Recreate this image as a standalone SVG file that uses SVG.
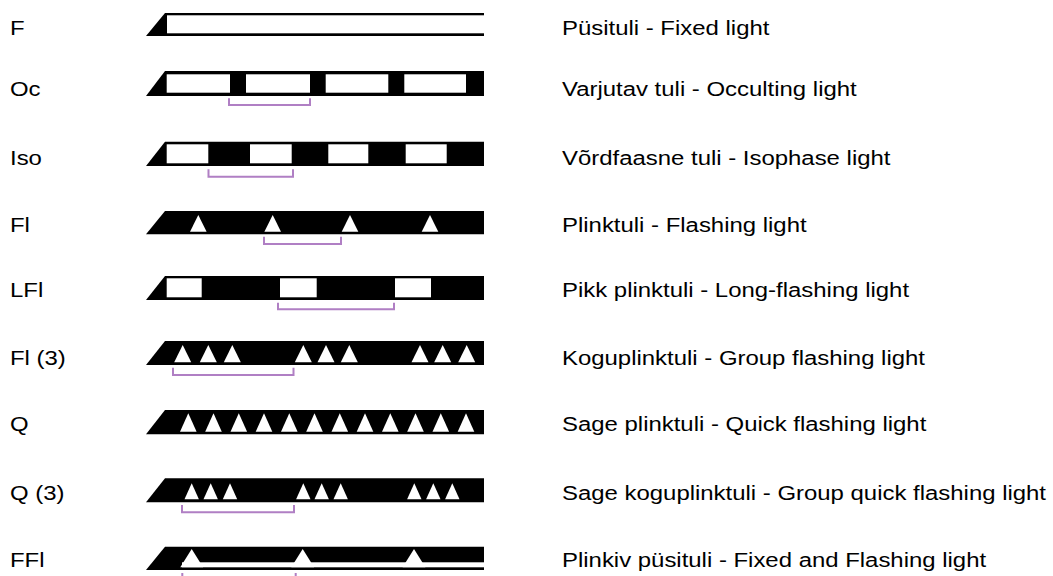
<svg xmlns="http://www.w3.org/2000/svg" width="1053" height="576" viewBox="0 0 1053 576">
<style>
.lbl{font-family:"Liberation Sans",Arial,sans-serif;font-size:21px;fill:#000}
.bar{fill:#000}
.win{fill:#fff}
.per{fill:none;stroke:#b07fc4;stroke-width:2}
</style>
<rect width="1053" height="576" fill="#fff"/>
<g id="row-F">
<text class="lbl" transform="translate(10,35) scale(1.14,1)">F</text>
<polygon class="bar" points="146,36 165,13 484,13 484,36"/>
<rect class="win" x="167" y="15.3" width="318" height="18"/>
<text class="lbl" transform="translate(562,35) scale(1.14,1)">Püsituli - Fixed light</text>
</g>
<g id="row-Oc">
<text class="lbl" transform="translate(10,96) scale(1.14,1)">Oc</text>
<polygon class="bar" points="146,96 165,71 484,71 484,96"/>
<rect class="win" x="166.7" y="74.3" width="63.3" height="18.4"/>
<rect class="win" x="246" y="74.3" width="64" height="18.4"/>
<rect class="win" x="325.7" y="74.3" width="62.6" height="18.4"/>
<rect class="win" x="404.3" y="74.3" width="61.7" height="18.4"/>
<text class="lbl" transform="translate(562,96) scale(1.14,1)">Varjutav tuli - Occulting light</text>
</g>
<g id="row-Iso">
<text class="lbl" transform="translate(10,165) scale(1.14,1)">Iso</text>
<polygon class="bar" points="146,166 165,141.7 484,141.7 484,166"/>
<rect class="win" x="166.7" y="144.3" width="41.6" height="19"/>
<rect class="win" x="250" y="144.3" width="41.7" height="19"/>
<rect class="win" x="328.3" y="144.3" width="40" height="19"/>
<rect class="win" x="405.7" y="144.3" width="41" height="19"/>
<text class="lbl" transform="translate(562,165) scale(1.14,1)">Võrdfaasne tuli - Isophase light</text>
</g>
<g id="row-Fl">
<text class="lbl" transform="translate(10,232) scale(1.14,1)">Fl</text>
<polygon class="bar" points="146,234.3 165,211 484,211 484,234.3"/>
<polygon class="win" points="198.3,215 206.6,231.7 190,231.7"/>
<polygon class="win" points="272.7,215 281,231.7 264.4,231.7"/>
<polygon class="win" points="350,215 358.3,231.7 341.7,231.7"/>
<polygon class="win" points="430,215 438.3,231.7 421.7,231.7"/>
<text class="lbl" transform="translate(562,232) scale(1.14,1)">Plinktuli - Flashing light</text>
</g>
<g id="row-LFl">
<text class="lbl" transform="translate(10,297) scale(1.14,1)">LFl</text>
<polygon class="bar" points="146,300 165,276 484,276 484,300"/>
<rect class="win" x="166.7" y="278.3" width="35" height="19"/>
<rect class="win" x="280" y="278.3" width="36.7" height="19"/>
<rect class="win" x="395" y="278.3" width="36" height="19"/>
<text class="lbl" transform="translate(562,297) scale(1.14,1)">Pikk plinktuli - Long-flashing light</text>
</g>
<g id="row-Fl3">
<text class="lbl" transform="translate(10,365) scale(1.14,1)">Fl (3)</text>
<polygon class="bar" points="146,365 165,341 484,341 484,365"/>
<polygon class="win" points="182.7,345 191.2,362.3 174.2,362.3"/>
<polygon class="win" points="208.3,345 216.8,362.3 199.8,362.3"/>
<polygon class="win" points="232.3,345 240.8,362.3 223.8,362.3"/>
<polygon class="win" points="303.3,345 311.8,362.3 294.8,362.3"/>
<polygon class="win" points="326,345 334.5,362.3 317.5,362.3"/>
<polygon class="win" points="349.3,345 357.8,362.3 340.8,362.3"/>
<polygon class="win" points="420,345 428.5,362.3 411.5,362.3"/>
<polygon class="win" points="442.7,345 451.2,362.3 434.2,362.3"/>
<polygon class="win" points="466.7,345 475.2,362.3 458.2,362.3"/>
<text class="lbl" transform="translate(562,365) scale(1.14,1)">Koguplinktuli - Group flashing light</text>
</g>
<g id="row-Q">
<text class="lbl" transform="translate(10,431) scale(1.14,1)">Q</text>
<polygon class="bar" points="146,434.3 165,410 484,410 484,434.3"/>
<polygon class="win" points="188.3,413.3 196.6,431.7 180,431.7"/>
<polygon class="win" points="213.5,413.3 221.8,431.7 205.2,431.7"/>
<polygon class="win" points="238.8,413.3 247.1,431.7 230.5,431.7"/>
<polygon class="win" points="264,413.3 272.3,431.7 255.7,431.7"/>
<polygon class="win" points="289.3,413.3 297.6,431.7 281,431.7"/>
<polygon class="win" points="314.5,413.3 322.8,431.7 306.2,431.7"/>
<polygon class="win" points="339.8,413.3 348.1,431.7 331.5,431.7"/>
<polygon class="win" points="365,413.3 373.3,431.7 356.7,431.7"/>
<polygon class="win" points="390.3,413.3 398.6,431.7 382,431.7"/>
<polygon class="win" points="415.5,413.3 423.8,431.7 407.2,431.7"/>
<polygon class="win" points="440.8,413.3 449.1,431.7 432.5,431.7"/>
<polygon class="win" points="466,413.3 474.3,431.7 457.7,431.7"/>
<text class="lbl" transform="translate(562,431) scale(1.14,1)">Sage plinktuli - Quick flashing light</text>
</g>
<g id="row-Q3">
<text class="lbl" transform="translate(10,500) scale(1.14,1)">Q (3)</text>
<polygon class="bar" points="146,502.3 165,478.3 484,478.3 484,502.3"/>
<polygon class="win" points="191.7,483.3 198.9,499.3 184.5,499.3"/>
<polygon class="win" points="210.7,483.3 217.9,499.3 203.5,499.3"/>
<polygon class="win" points="230,483.3 237.2,499.3 222.8,499.3"/>
<polygon class="win" points="303.3,483.3 310.5,499.3 296.1,499.3"/>
<polygon class="win" points="321.7,483.3 328.9,499.3 314.5,499.3"/>
<polygon class="win" points="340.7,483.3 347.9,499.3 333.5,499.3"/>
<polygon class="win" points="414.3,483.3 421.5,499.3 407.1,499.3"/>
<polygon class="win" points="433.3,483.3 440.5,499.3 426.1,499.3"/>
<polygon class="win" points="452.3,483.3 459.5,499.3 445.1,499.3"/>
<text class="lbl" transform="translate(562,500) scale(1.14,1)">Sage koguplinktuli - Group quick flashing light</text>
</g>
<g id="row-FFl">
<text class="lbl" transform="translate(10,567) scale(1.14,1)">FFl</text>
<polygon class="bar" points="146,570 165,546.7 484,546.7 484,570"/>
<rect class="win" x="182" y="562.3" width="303" height="5"/>
<polygon class="win" points="191.7,549 203.1,567.3 180.3,567.3"/>
<polygon class="win" points="302.7,549 314.1,567.3 291.3,567.3"/>
<polygon class="win" points="414,549 425.4,567.3 402.6,567.3"/>
<text class="lbl" transform="translate(562,567) scale(1.14,1)">Plinkiv püsituli - Fixed and Flashing light</text>
</g>
<g id="periods">
<polyline class="per" points="229,98.3 229,105 310,105 310,98.3"/>
<polyline class="per" points="208.5,169.3 208.5,176.7 293,176.7 293,169.3"/>
<polyline class="per" points="264,236.7 264,244 341,244 341,236.7"/>
<polyline class="per" points="278,302.7 278,309.3 394,309.3 394,302.7"/>
<polyline class="per" points="173,367.7 173,375 293.5,375 293.5,367.7"/>
<polyline class="per" points="182,505 182,512.3 294,512.3 294,505"/>
<polyline class="per" points="182.3,573 182.3,580 295.7,580 295.7,573"/>
</g>
</svg>
